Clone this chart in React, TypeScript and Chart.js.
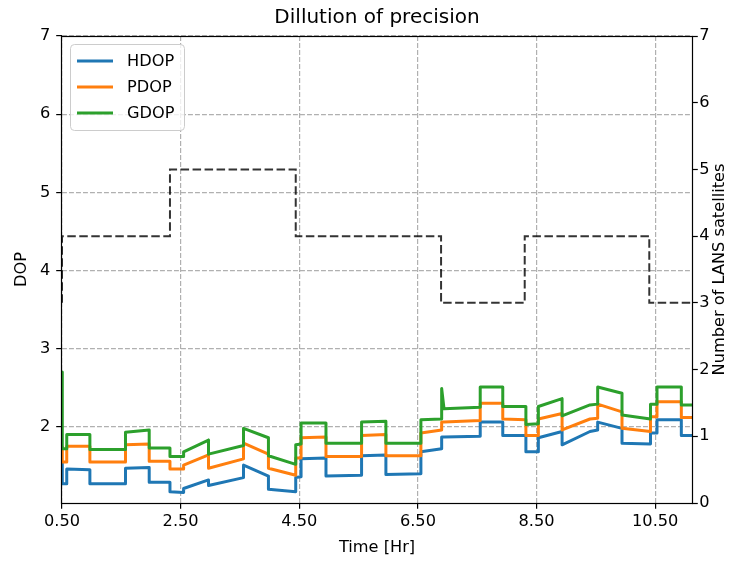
import { useEffect, useRef } from "react";
import { Chart, registerables } from "chart.js";

Chart.register(...registerables);

// ---- data ----
const timeHr = [
  0.5, 0.505, 0.58, 0.58, 0.97, 0.97, 1.57, 1.57, 1.97, 1.97,
  2.32, 2.32, 2.55, 2.55, 2.97, 2.97, 3.56, 3.56, 3.98, 3.98,
  4.44, 4.44, 4.53, 4.53, 4.95, 4.95, 5.55, 5.55, 5.96, 5.96,
  6.55, 6.55, 6.9, 6.9, 6.94, 7.55, 7.55, 7.93, 7.93, 8.32,
  8.32, 8.53, 8.53, 8.93, 8.93, 9.4, 9.53, 9.53, 9.94, 9.94,
  10.42, 10.42, 10.53, 10.53, 10.94, 10.94, 11.12,
];
const hdop = [
  1.54, 1.27, 1.27, 1.46, 1.45, 1.27, 1.27, 1.47, 1.48, 1.29,
  1.29, 1.17, 1.16, 1.21, 1.32, 1.25, 1.35, 1.51, 1.37, 1.2,
  1.17, 1.35, 1.36, 1.59, 1.6, 1.37, 1.38, 1.63, 1.64, 1.39,
  1.4, 1.68, 1.72, 1.87, 1.87, 1.88, 2.06, 2.06, 1.89, 1.89,
  1.68, 1.68, 1.86, 1.94, 1.77, 1.94, 1.96, 2.06, 1.98, 1.79,
  1.78, 1.92, 1.92, 2.09, 2.09, 1.89, 1.89,
];
const pdop = [
  1.74, 1.55, 1.55, 1.75, 1.75, 1.55, 1.55, 1.77, 1.78, 1.56,
  1.56, 1.46, 1.46, 1.51, 1.64, 1.47, 1.59, 1.79, 1.65, 1.47,
  1.38, 1.6, 1.6, 1.86, 1.87, 1.62, 1.62, 1.89, 1.9, 1.63,
  1.63, 1.92, 1.96, 2.06, 2.06, 2.08, 2.3, 2.3, 2.1, 2.09,
  1.89, 1.89, 2.1, 2.17, 1.96, 2.1, 2.11, 2.29, 2.19, 1.98,
  1.94, 2.13, 2.13, 2.32, 2.32, 2.12, 2.12,
];
const gdop = [
  2.7, 1.72, 1.72, 1.9, 1.9, 1.71, 1.71, 1.93, 1.96, 1.73,
  1.73, 1.62, 1.62, 1.68, 1.83, 1.65, 1.76, 1.98, 1.86, 1.63,
  1.52, 1.77, 1.78, 2.05, 2.05, 1.79, 1.79, 2.06, 2.07, 1.79,
  1.79, 2.09, 2.1, 2.49, 2.23, 2.25, 2.51, 2.51, 2.26, 2.26,
  2.03, 2.04, 2.26, 2.36, 2.14, 2.28, 2.29, 2.51, 2.43, 2.15,
  2.1, 2.29, 2.29, 2.51, 2.51, 2.28, 2.28,
];
const satTimeHr = [0.5, 0.5, 2.32, 2.32, 4.44, 4.44, 6.89, 6.89, 8.3, 8.3, 10.4, 10.4, 11.12];
const satCount = [3, 4, 4, 5, 5, 4, 4, 3, 3, 4, 4, 3, 3];

const xTickValues = [0.5, 2.5, 4.5, 6.5, 8.5, 10.5];
const xTickLabels = ["0.50", "2.50", "4.50", "6.50", "8.50", "10.50"];
const dopTickValues = [2, 3, 4, 5, 6, 7];
const satTickValues = [0, 1, 2, 3, 4, 5, 6, 7];

const FONT = "'DejaVu Sans', sans-serif";
const FS = 16.2;
const tickFont = { family: FONT, size: FS };

const frameLegendPlugin = {
  id: "frameLegend",
  afterDraw(chart: any) {
    const { ctx, chartArea: a } = chart;
    ctx.save();
    // frame
    ctx.strokeStyle = "#000";
    ctx.lineWidth = 1.2;
    ctx.setLineDash([]);
    ctx.strokeRect(Math.round(a.left) - 0.5, Math.round(a.top) + 0.5, Math.round(a.right - a.left) + 1, Math.round(a.bottom - a.top));
    // right axis label (matplotlib style, bottom-to-top)
    ctx.fillStyle = "#000";
    ctx.font = `${FS}px ${FONT}`;
    ctx.textAlign = "center";
    ctx.textBaseline = "middle";
    ctx.translate(720, (a.top + a.bottom) / 2);
    ctx.rotate(-Math.PI / 2);
    ctx.fillText("Number of LANS satellites", 0, 0);
    ctx.setTransform(1, 0, 0, 1, 0, 0);
    // legend
    const bx = a.left + 8.5, by = a.top + 8.5, bw = 114, bh = 86, r = 4;
    ctx.beginPath();
    ctx.moveTo(bx + r, by);
    ctx.lineTo(bx + bw - r, by);
    ctx.arcTo(bx + bw, by, bx + bw, by + r, r);
    ctx.lineTo(bx + bw, by + bh - r);
    ctx.arcTo(bx + bw, by + bh, bx + bw - r, by + bh, r);
    ctx.lineTo(bx + r, by + bh);
    ctx.arcTo(bx, by + bh, bx, by + bh - r, r);
    ctx.lineTo(bx, by + r);
    ctx.arcTo(bx, by, bx + r, by, r);
    ctx.closePath();
    ctx.fillStyle = "rgba(255,255,255,0.8)";
    ctx.fill();
    ctx.strokeStyle = "#cccccc";
    ctx.lineWidth = 1;
    ctx.stroke();
    const items = chart.data.datasets.filter((d: any) => d.label !== "Satellites");
    items.forEach((d: any, i: number) => {
      const cy = by + 16.5 + i * 26;
      ctx.strokeStyle = d.borderColor;
      ctx.lineWidth = 3;
      ctx.beginPath();
      ctx.moveTo(bx + 6.5, cy);
      ctx.lineTo(bx + 42.5, cy);
      ctx.stroke();
      ctx.fillStyle = "#000";
      ctx.font = `${FS}px ${FONT}`;
      ctx.textAlign = "left";
      ctx.textBaseline = "middle";
      ctx.fillText(d.label, bx + 56.5, cy + 1);
    });
    ctx.restore();
  },
};

export default function App() {
  const ref = useRef<HTMLCanvasElement>(null);
  useEffect(() => {
    const canvas = ref.current!;
    const mk = (arr: number[]) => timeHr.map((t, i) => ({ x: t, y: arr[i] }));
    const lineStyle = { borderWidth: 3, pointRadius: 0, borderJoinStyle: "round" as const, fill: false, yAxisID: "y" };
    const gridStyle = { color: "#b0b0b0", lineWidth: 1.2, tickColor: "#000", tickLength: 5.8, tickWidth: 1.2 };
    const chart = new Chart(canvas, {
      type: "line",
      data: {
        datasets: [
          { label: "HDOP", data: mk(hdop), borderColor: "#1f77b4", ...lineStyle, order: 3 },
          { label: "PDOP", data: mk(pdop), borderColor: "#ff7f0e", ...lineStyle, order: 2 },
          { label: "GDOP", data: mk(gdop), borderColor: "#2ca02c", ...lineStyle, order: 1 },
          {
            label: "Satellites",
            data: satTimeHr.map((t, i) => ({ x: t, y: satCount[i] })),
            borderColor: "rgba(0,0,0,0.8)",
            borderWidth: 2,
            borderDash: [8.5, 3.5],
            pointRadius: 0,
            fill: false,
            yAxisID: "y2",
            order: 0,
          },
        ],
      },
      options: {
        responsive: false,
        animation: false,
        events: [],
        layout: { padding: 0 },
        plugins: {
          legend: { display: false },
          tooltip: { enabled: false },
          title: {
            display: true,
            text: "Dillution of precision",
            fullSize: false,
            color: "#000",
            font: { family: FONT, size: 20, weight: "normal", lineHeight: 1.2 },
            padding: { top: 6, bottom: 6 },
          },
        },
        scales: {
          x: {
            type: "linear",
            min: 0.5,
            max: 11.12,
            afterBuildTicks: (s: any) => {
              s.ticks = xTickValues.map((v) => ({ value: v }));
            },
            afterFit: (s: any) => {
              s.height = 60;
            },
            ticks: {
              autoSkip: false,
              maxRotation: 0,
              color: "#000",
              font: tickFont,
              padding: 3,
              callback: (_v: any, i: number) => xTickLabels[i],
            },
            grid: gridStyle,
            border: { display: false, dash: [4.9, 2.1] },
            title: { display: true, text: "Time [Hr]", color: "#000", font: tickFont, padding: { top: 0, bottom: 5.5 } },
          },
          y: {
            type: "linear",
            position: "left",
            min: 1.025,
            max: 7,
            afterBuildTicks: (s: any) => {
              s.ticks = dopTickValues.map((v) => ({ value: v }));
            },
            afterFit: (s: any) => {
              s.width = 62;
            },
            ticks: { color: "#000", font: tickFont, padding: 6, callback: (v: any) => String(v) },
            grid: gridStyle,
            border: { display: false, dash: [4.9, 2.1] },
            title: { display: true, text: "DOP", color: "#000", font: tickFont, padding: { top: 12.3, bottom: 0 } },
          },
          y2: {
            type: "linear",
            position: "right",
            min: 0,
            max: 7,
            afterBuildTicks: (s: any) => {
              s.ticks = satTickValues.map((v) => ({ value: v }));
            },
            afterFit: (s: any) => {
              s.width = 42;
            },
            ticks: { color: "#000", font: tickFont, padding: 1.5, callback: (v: any) => String(v) },
            grid: { drawOnChartArea: false, tickColor: "#000", tickLength: 5.8, tickWidth: 1.2 },
            border: { display: false },
          },
        },
      },
      plugins: [frameLegendPlugin],
    } as any);
    return () => chart.destroy();
  }, []);
  return (
    <div style={{ position: "absolute", left: 0, top: 0, width: 734, height: 563, background: "#fff" }}>
      <canvas ref={ref} width={734} height={563} style={{ display: "block" }} />
    </div>
  );
}
